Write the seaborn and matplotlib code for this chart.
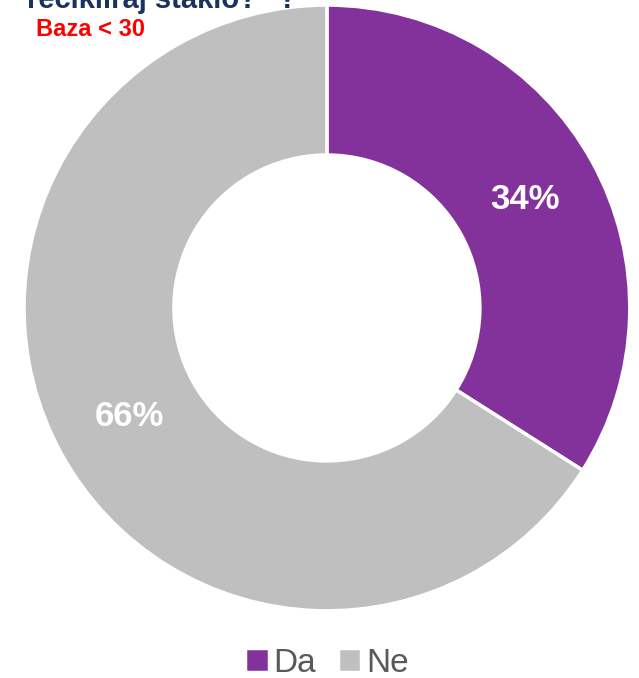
import matplotlib
matplotlib.use("Agg")
import matplotlib.pyplot as plt
import seaborn as sns

labels = ["Da", "Ne"]
shares = [34, 66]
colors = ["#84329B", "#BFBFBF"]

sns.set_theme(style="white")
plt.rcParams['font.family'] = ['Liberation Sans', 'DejaVu Sans']

fig = plt.figure(figsize=(6.39, 6.78), dpi=100)
ax = fig.add_axes([0.0376, 0.0988, 0.948, 0.894])

wedges, texts, autotexts = ax.pie(
    shares, colors=sns.color_palette(colors), startangle=90, counterclock=False,
    autopct='%d%%', pctdistance=0.745, radius=1,
    wedgeprops=dict(width=0.495, edgecolor='white', linewidth=2.5),
    textprops=dict(color='white', fontsize=25, fontweight='bold'))
ax.set_xlim(-1, 1)
ax.set_ylim(-1, 1)
ax.set_aspect('equal')

fig.text(0.042, 0.988, 'recikliraj staklo?" ?', color='#1A325F', fontsize=21,
         fontweight='bold', va='baseline', ha='left')
fig.text(0.056, 0.957, 'Baza < 30', color='#FF0000', fontsize=17,
         fontweight='bold', va='center', ha='left')

fig.legend(wedges, labels, loc='center', bbox_to_anchor=(0.512, 0.022),
           ncol=2, frameon=False, fontsize=24, handlelength=0.7, handleheight=0.7,
           handletextpad=0.15, columnspacing=0.65, labelcolor='#595959')

fig.savefig("out.png", dpi=100)
